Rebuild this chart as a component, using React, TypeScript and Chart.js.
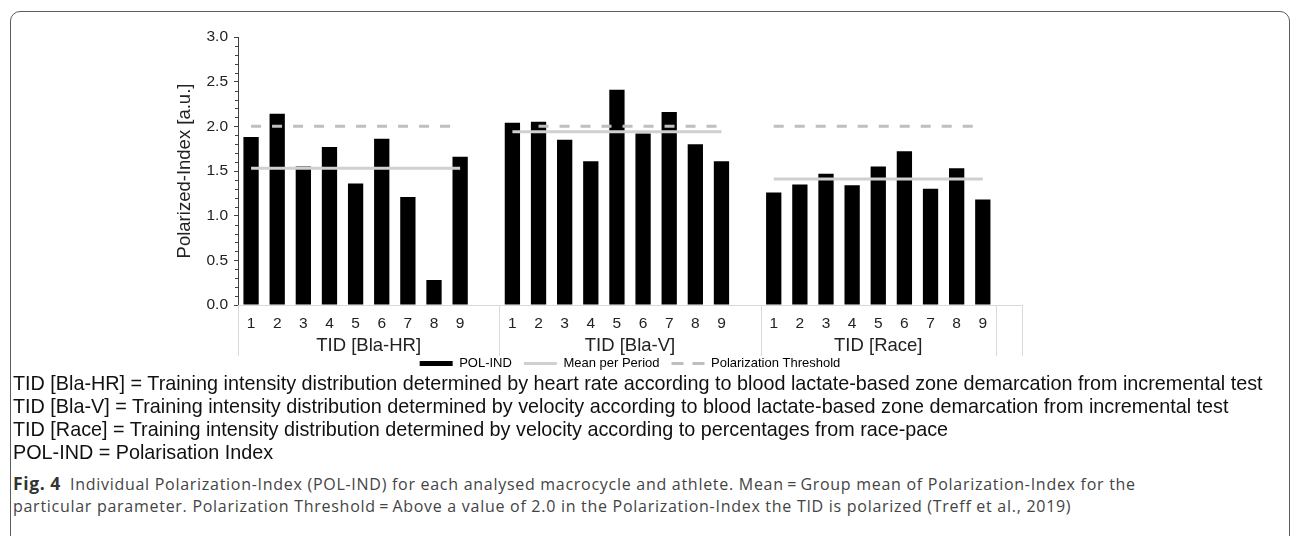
import React, { useEffect, useRef } from 'react';
import { Chart, registerables } from 'chart.js';

Chart.register(...registerables);

// ---------- data ----------
const groupLabels = ['TID [Bla-HR]', 'TID [Bla-V]', 'TID [Race]', ''];
const groupSizes = [10, 10, 9, 1];
const athleteLabels = ['1', '2', '3', '4', '5', '6', '7', '8', '9'];

const polIndBlaHR = [1.88, 2.14, 1.55, 1.77, 1.36, 1.86, 1.21, 0.28, 1.66];
const polIndBlaV = [2.04, 2.05, 1.85, 1.61, 2.41, 1.92, 2.16, 1.80, 1.61];
const polIndRace = [1.26, 1.35, 1.47, 1.34, 1.55, 1.72, 1.30, 1.53, 1.18];

const meanPerPeriod = [1.53, 1.94, 1.41];

const thresholdBlaHR = [2.0, 2.0, 2.0, 2.0, 2.0, 2.0, 2.0, 2.0, 2.0];
const thresholdBlaV = [null, 2.0, 2.0, 2.0, 2.0, 2.0, 2.0, 2.0, 2.0];
const thresholdRace = [2.0, 2.0, 2.0, 2.0, 2.0, 2.0, 2.0, 2.0, 2.0];

const yTicks = [0, 0.5, 1.0, 1.5, 2.0, 2.5, 3.0];

const captionLines = [
  'TID [Bla-HR] = Training intensity distribution determined by heart rate according to blood lactate-based zone demarcation from incremental test',
  'TID [Bla-V] = Training intensity distribution determined by velocity according to blood lactate-based zone demarcation from incremental test',
  'TID [Race] = Training intensity distribution determined by velocity according to percentages from race-pace',
  'POL-IND = Polarisation Index',
];
const figTitle = 'Fig. 4';
const figCaption1 = 'Individual Polarization-Index (POL-IND) for each analysed macrocycle and athlete. Mean\u2009=\u2009Group mean of Polarization-Index for the';
const figCaption2 = 'particular parameter. Polarization Threshold\u2009=\u2009Above a value of 2.0 in the Polarization-Index the TID is polarized (Treff et al., 2019)';

// ---------- build table ----------
const groupValues = [polIndBlaHR, polIndBlaV, polIndRace, [] as number[]];
const groupThresholds = [thresholdBlaHR, thresholdBlaV, thresholdRace, [] as (number | null)[]];

const categories: string[] = [];
const barData: (number | null)[] = [];
const meanData: (number | null)[] = [];
const thresholdData: (number | null)[] = [];
groupSizes.forEach((size, g) => {
  for (let i = 0; i < size; i++) {
    const v = groupValues[g][i];
    categories.push(v === undefined ? '' : athleteLabels[i]);
    barData.push(v === undefined ? null : v);
    meanData.push(v === undefined || meanPerPeriod[g] === undefined ? null : meanPerPeriod[g]);
    const t = groupThresholds[g][i];
    thresholdData.push(t === undefined ? null : t);
  }
});

const FONT = "'Liberation Sans', Arial, Helvetica, sans-serif";
const MEAN_COLOR = '#d0d0d0';
const THRESH_COLOR = '#bfbfbf';
const DASH = [10, 11];

const axisDecor = {
  id: 'axisDecor',
  afterDraw(chart: any) {
    const { ctx, chartArea, scales } = chart;
    const x = scales.x;
    const y = scales.y;
    ctx.save();
    // minor ticks on y axis
    ctx.strokeStyle = '#404040';
    ctx.lineWidth = 1;
    for (let k = 0; k <= 30; k++) {
      if (k % 5 === 0) continue;
      const py = Math.round(y.getPixelForValue(k / 10)) + 0.5;
      ctx.beginPath();
      ctx.moveTo(chartArea.left - 3, py);
      ctx.lineTo(chartArea.left, py);
      ctx.stroke();
    }
    // group dividers
    const slot = x.getPixelForValue(1) - x.getPixelForValue(0);
    const bounds = [0];
    let acc = 0;
    groupSizes.forEach((s) => {
      acc += s;
      bounds.push(acc);
    });
    ctx.strokeStyle = '#d9d9d9';
    bounds.forEach((b) => {
      const px = Math.round(x.getPixelForValue(b) - slot / 2) + 0.5;
      ctx.beginPath();
      ctx.moveTo(px, chartArea.bottom);
      ctx.lineTo(px, chartArea.bottom + 51);
      ctx.stroke();
    });
    // group labels
    ctx.font = `18.5px ${FONT}`;
    ctx.fillStyle = '#222';
    ctx.textAlign = 'center';
    ctx.textBaseline = 'middle';
    groupLabels.forEach((label, g) => {
      if (!label) return;
      const a = x.getPixelForValue(bounds[g]) - slot / 2;
      const b = x.getPixelForValue(bounds[g + 1]) - slot / 2;
      ctx.fillText(label, (a + b) / 2, chartArea.bottom + 41);
    });
    ctx.restore();
  },
};

function ChartCanvas() {
  const ref = useRef<HTMLCanvasElement | null>(null);
  useEffect(() => {
    if (!ref.current) return;
    const chart = new Chart(ref.current, {
      type: 'bar',
      data: {
        labels: categories,
        datasets: [
          {
            type: 'line',
            label: 'Polarization Threshold',
            data: thresholdData,
            borderColor: THRESH_COLOR,
            backgroundColor: THRESH_COLOR,
            borderWidth: 3,
            borderDash: DASH,
            pointRadius: 0,
            spanGaps: false,
            order: 0,
          } as any,
          {
            type: 'line',
            label: 'Mean per Period',
            data: meanData,
            borderColor: MEAN_COLOR,
            backgroundColor: MEAN_COLOR,
            borderWidth: 3,
            pointRadius: 0,
            spanGaps: false,
            order: 1,
          } as any,
          {
            type: 'bar',
            label: 'POL-IND',
            data: barData,
            backgroundColor: '#000000',
            borderWidth: 0,
            barPercentage: 0.585,
            categoryPercentage: 1.0,
            order: 2,
          } as any,
        ],
      },
      options: {
        animation: false,
        responsive: true,
        maintainAspectRatio: false,
        layout: { padding: { top: 17, left: 0, right: 78, bottom: 0 } },
        font: { family: FONT },
        plugins: {
          tooltip: { enabled: false },
          legend: {
            position: 'bottom',
            fullSize: false,
            align: 'center',
            labels: {
              usePointStyle: true,
              pointStyleWidth: 33,
              boxWidth: 33,
              boxHeight: 5,
              padding: 12,
              color: '#222',
              font: { family: FONT, size: 13 },
              generateLabels: () => [
                {
                  text: 'POL-IND',
                  fillStyle: '#000',
                  strokeStyle: '#000',
                  lineWidth: 0,
                  pointStyle: 'rect',
                  datasetIndex: 2,
                },
                {
                  text: 'Mean per Period',
                  fillStyle: MEAN_COLOR,
                  strokeStyle: MEAN_COLOR,
                  lineWidth: 3,
                  pointStyle: 'line',
                  datasetIndex: 1,
                },
                {
                  text: 'Polarization Threshold',
                  fillStyle: THRESH_COLOR,
                  strokeStyle: THRESH_COLOR,
                  lineWidth: 3,
                  lineDash: [12, 9],
                  pointStyle: 'line',
                  datasetIndex: 0,
                },
              ],
            },
          },
        },
        scales: {
          x: {
            type: 'category',
            offset: true,
            grid: { display: false, drawTicks: false },
            border: { display: true, color: '#d9d9d9', width: 1 },
            ticks: {
              autoSkip: false,
              maxRotation: 0,
              padding: 9,
              color: '#222',
              font: { family: FONT, size: 15.5 },
            },
            afterFit: (s: any) => {
              s.height = 40;
            },
          },
          y: {
            min: 0,
            max: 3,
            afterBuildTicks: (s: any) => {
              s.ticks = yTicks.map((v) => ({ value: v }));
            },
            grid: {
              drawOnChartArea: false,
              drawTicks: true,
              tickLength: 4,
              color: '#404040',
            },
            border: { display: true, color: '#404040', width: 1 },
            ticks: {
              padding: 6,
              color: '#222',
              font: { family: FONT, size: 15.5 },
              callback: (v: any) => Number(v).toFixed(1),
            },
            title: {
              display: true,
              text: 'Polarized-Index [a.u.]',
              color: '#222',
              font: { family: FONT, size: 18.5 },
              padding: { top: 24, bottom: 0 },
            },
            afterFit: (s: any) => {
              s.width = 88;
            },
          },
        },
      },
      plugins: [axisDecor],
    });
    return () => chart.destroy();
  }, []);
  return (
    <div style={{ position: 'absolute', left: 150, top: 20, width: 950, height: 360 }}>
      <canvas ref={ref} />
    </div>
  );
}

export default function App() {
  return (
    <div
      style={{
        position: 'fixed',
        left: 0,
        top: 0,
        width: 1293,
        height: 536,
        overflow: 'hidden',
        background: '#fff',
      }}
    >
      <div
        style={{
          position: 'absolute',
          left: 10,
          top: 11,
          width: 1280,
          height: 560,
          boxSizing: 'border-box',
          border: '1.5px solid #5c5c5c',
          borderRadius: 10,
        }}
      />
      <ChartCanvas />
      <div
        style={{
          position: 'absolute',
          left: 13,
          top: 372,
          fontFamily: FONT,
          fontSize: 19.8,
          lineHeight: '23px',
          color: '#111',
          whiteSpace: 'nowrap',
        }}
      >
        {captionLines.map((l, i) => (
          <div key={i}>{l}</div>
        ))}
      </div>
      <div
        style={{
          position: 'absolute',
          left: 13,
          top: 472,
          fontFamily: "'Open Sans', 'Noto Sans', sans-serif",
          fontSize: 16,
          letterSpacing: '0.72px',
          lineHeight: '22px',
          color: '#444',
          whiteSpace: 'nowrap',
        }}
      >
        <div>
          <span style={{ fontWeight: 700, fontSize: 17.5, color: '#333', letterSpacing: '0.6px', marginRight: 9 }}>
            {figTitle}
          </span>
          {figCaption1}
        </div>
        <div>{figCaption2}</div>
      </div>
    </div>
  );
}
